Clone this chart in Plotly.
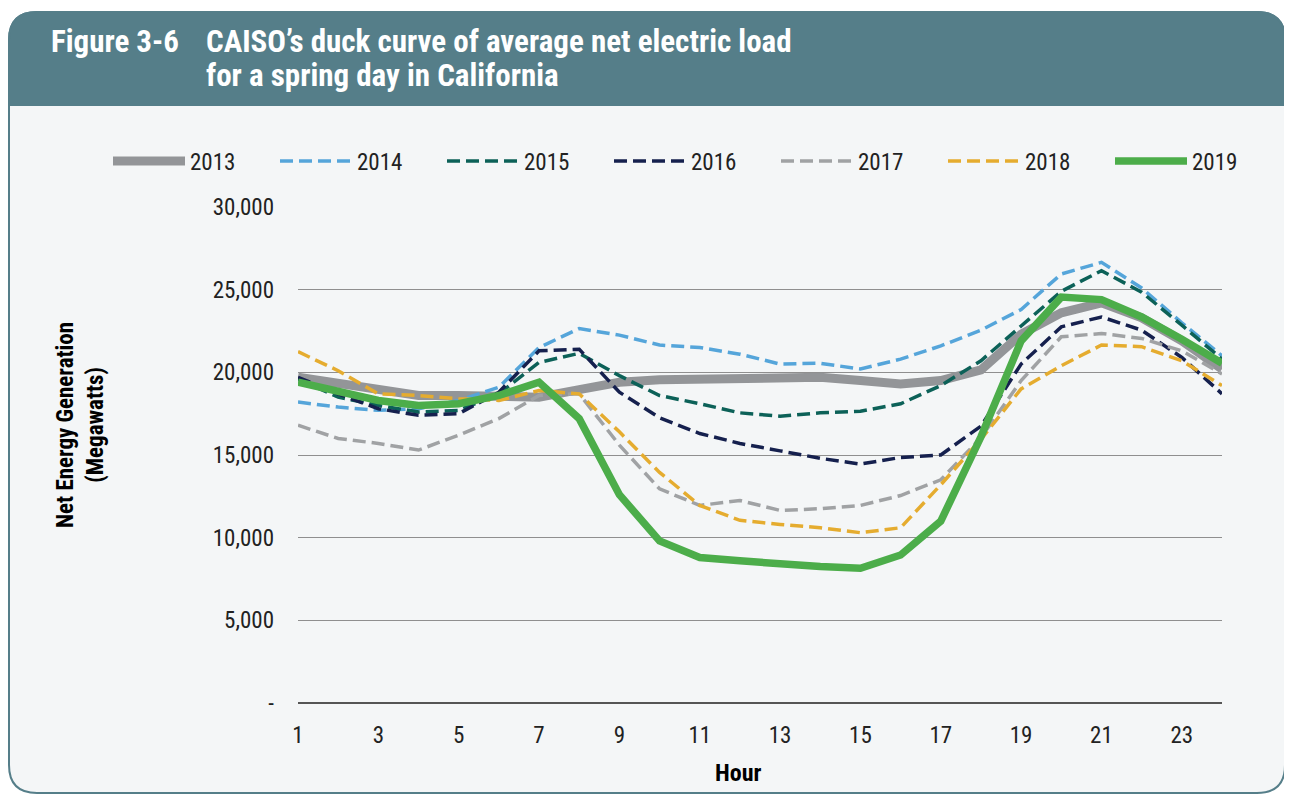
import plotly.graph_objects as go

hours = list(range(1, 25))
years = ["2013", "2014", "2015", "2016", "2017", "2018", "2019"]

load_2013 = [19700, 19300, 18900, 18600, 18600, 18550, 18500, 18950, 19400, 19550, 19600, 19600,
             19750, 19700, 19500, 19300, 19500, 20150, 22300, 23600, 24200, 23300, 21900, 20200]
load_2014 = [18200, 17900, 17700, 17800, 18300, 19100, 21500, 22650, 22250, 21650, 21500, 21100,
             20500, 20550, 20200, 20800, 21600, 22550, 23800, 25950, 26650, 25100, 23000, 21000]
load_2015 = [19600, 18500, 18000, 17600, 17700, 18700, 20600, 21150, 19800, 18600, 18100, 17550,
             17350, 17550, 17650, 18100, 19200, 20700, 22800, 24900, 26150, 24850, 22850, 20800]
load_2016 = [19700, 18700, 17800, 17400, 17500, 18800, 21300, 21400, 18800, 17250, 16300, 15700,
             15250, 14800, 14450, 14850, 15000, 16750, 20500, 22750, 23350, 22550, 20900, 18700]
load_2017 = [16800, 16000, 15700, 15300, 16200, 17200, 18600, 18700, 15600, 12950, 11950, 12250,
             11650, 11750, 11950, 12550, 13500, 16050, 19500, 22150, 22350, 22050, 21300, 19900]
load_2018 = [21250, 20100, 18700, 18600, 18400, 18300, 18900, 18700, 16400, 13950, 11950, 11050,
             10800, 10600, 10300, 10600, 13200, 15950, 19000, 20400, 21650, 21550, 20700, 19200]
load_2019 = [19400, 18850, 18300, 18000, 18100, 18600, 19400, 17200, 12600, 9800, 8800, 8600,
             8400, 8250, 8150, 8950, 11000, 16100, 21900, 24550, 24400, 23350, 22000, 20550]

x_tickvals = [1, 3, 5, 7, 9, 11, 13, 15, 17, 19, 21, 23]
y_tickvals = [0, 5000, 10000, 15000, 20000, 25000, 30000]
y_ticktext = ["-", "5,000", "10,000", "15,000", "20,000", "25,000", "30,000"]

series = [load_2013, load_2014, load_2015, load_2016, load_2017, load_2018, load_2019]
colors = ["#939598", "#55a5da", "#0c6158", "#15204e", "#a0a2a4", "#e5ac2f", "#4cad4a"]
widths = [9, 3.5, 3.5, 3.5, 3.5, 3.5, 7.5]
dashes = ["solid", "13px,6px", "13px,6px", "13px,6px", "13px,6px", "13px,6px", "solid"]

# page body has an 8px margin: work in reference pixel coords and shift
OFF = 8
W, H = 1292 - OFF, 795 - OFF
L, R, T, B = 298 - OFF, 1222 - OFF, 207 - OFF, 703 - OFF
COND = "Liberation Sans Narrow, Roboto Condensed, Open Sans, sans-serif"


def px(x):
    return (x - OFF - L) / (R - L)


def py(y):
    return (B - (y - OFF)) / (B - T)


def rounded(x0, y0, x1, y1, r, bottom_round=True):
    p = f"M {px(x0)},{py(y0 + r)} Q {px(x0)},{py(y0)} {px(x0 + r)},{py(y0)} "
    p += f"L {px(x1 - r)},{py(y0)} Q {px(x1)},{py(y0)} {px(x1)},{py(y0 + r)} "
    if bottom_round:
        p += f"L {px(x1)},{py(y1 - r)} Q {px(x1)},{py(y1)} {px(x1 - r)},{py(y1)} "
        p += f"L {px(x0 + r)},{py(y1)} Q {px(x0)},{py(y1)} {px(x0)},{py(y1 - r)} Z"
    else:
        p += f"L {px(x1)},{py(y1)} L {px(x0)},{py(y1)} Z"
    return p


fig = go.Figure()
for name, vals, c, w, d in zip(years, series, colors, widths, dashes):
    fig.add_trace(go.Scatter(x=hours, y=vals, mode="lines", name=name,
                             line=dict(color=c, width=w, dash=d)))

teal = "#557e89"
shapes = [
    dict(type="path", xref="paper", yref="paper", layer="below",
         path=rounded(9, 12, 1285, 793, 28), fillcolor="#f4f6f7",
         line=dict(color=teal, width=2)),
    dict(type="path", xref="paper", yref="paper", layer="below",
         path=rounded(9, 12, 1285, 105, 28, bottom_round=False), fillcolor=teal,
         line=dict(color=teal, width=2)),
]

annotations = [
    dict(text="<b>Figure 3-6</b>", x=px(49), y=py(42), xref="paper", yref="paper",
         xanchor="left", yanchor="middle", showarrow=False,
         font=dict(family=COND, size=31, color="white")),
    dict(text="<b>CAISO’s duck curve of average net electric load</b>", x=px(204), y=py(42),
         xref="paper", yref="paper", xanchor="left", yanchor="middle", showarrow=False,
         font=dict(family=COND, size=31, color="white")),
    dict(text="<b>for a spring day in California</b>", x=px(204), y=py(76),
         xref="paper", yref="paper", xanchor="left", yanchor="middle", showarrow=False,
         font=dict(family=COND, size=31, color="white")),
    dict(text="<b>Net Energy Generation<br>(Megawatts)</b>", x=px(80), y=py(425),
         xref="paper", yref="paper", xanchor="center", yanchor="middle", showarrow=False,
         textangle=-90, font=dict(family=COND, size=23, color="black")),
    dict(text="<b>Hour</b>", x=px(738), y=py(773), xref="paper", yref="paper",
         xanchor="center", yanchor="middle", showarrow=False,
         font=dict(family=COND, size=24, color="black")),
]

fig.update_layout(
    width=W, height=H,
    margin=dict(l=L, r=W - R, t=T, b=H - B, pad=0),
    paper_bgcolor="white", plot_bgcolor="rgba(0,0,0,0)",
    shapes=shapes, annotations=annotations,
    showlegend=True,
    legend=dict(orientation="h", x=px(108), y=py(161), xanchor="left", yanchor="middle",
                font=dict(family=COND, size=23, color="#222"),
                entrywidth=80, itemwidth=72, bgcolor="rgba(0,0,0,0)",
                traceorder="normal"),
    xaxis=dict(range=[1, 24], tickvals=x_tickvals, showgrid=False, zeroline=False,
               showline=False, ticks="", ticklabelstandoff=16,
               tickfont=dict(family=COND, size=23, color="#222")),
    yaxis=dict(range=[0, 30000], tickvals=y_tickvals, ticktext=y_ticktext,
               showgrid=True, gridcolor="#8f8f8f", gridwidth=1, zeroline=True,
               zerolinecolor="#555", zerolinewidth=2, showline=False, ticks="",
               ticklabelstandoff=23,
               tickfont=dict(family=COND, size=23, color="#222")),
    font=dict(family=COND),
)

fig.write_html("out.html")
